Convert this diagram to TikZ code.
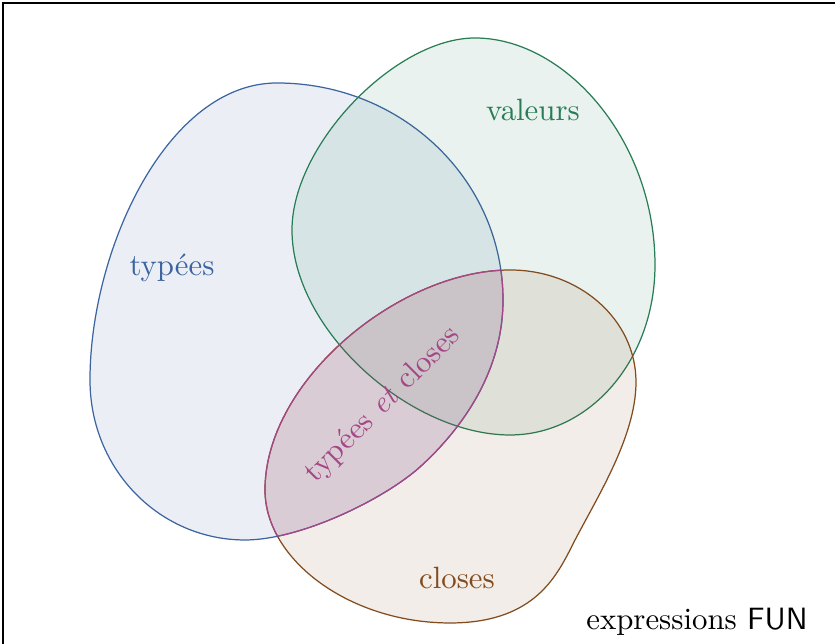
\documentclass[tikz,border=0pt]{standalone}
\usepackage{xcolor}
\usepackage{tikz}

\definecolor{typblue}{RGB}{60,100,160}
\definecolor{valgreen}{RGB}{40,125,85}
\definecolor{closbrown}{RGB}{130,75,30}
\definecolor{bothpurple}{RGB}{165,70,135}

\def\typeespath{(277,83) .. controls (402,83) and (503,180) .. (503,300)
  .. controls (503,370) and (464,427) .. (420,467)
  .. controls (383,500) and (300,540) .. (245,540)
  .. controls (160,540) and (90,470) .. (90,380)
  .. controls (90,250) and (167,83) .. cycle}
\def\valeurspath{(475,38) .. controls (565,38) and (655,140) .. (655,265)
  .. controls (655,360) and (590,435) .. (510,435)
  .. controls (410,435) and (292,330) .. (292,230)
  .. controls (292,145) and (395,38) .. cycle}
\def\closespath{(510,270) .. controls (580,270) and (636,320) .. (636,382)
  .. controls (636,440) and (592,505) .. (570,550)
  .. controls (554,581) and (530,623) .. (450,623)
  .. controls (350,623) and (265,560) .. (265,490)
  .. controls (265,380) and (400,270) .. cycle}

\begin{document}
\begin{tikzpicture}[
x=0.114mm, y=-0.114mm,
region/.style={line width=0.4pt, fill opacity=0.1},
label/.style={font=\normalsize},
]
\useasboundingbox (0,0) rectangle (835,644);
\draw[line width=0.6pt] (3,3) rectangle (840,650);

%Regions
\draw[region, draw=typblue, fill=typblue] \typeespath;
\draw[region, draw=valgreen, fill=valgreen] \valeurspath;
\draw[region, draw=closbrown, fill=closbrown] \closespath;

%Intersection
\begin{scope}
\clip \closespath;
\fill[bothpurple, fill opacity=0.12] \typeespath;
\draw[bothpurple, line width=0.4pt] \typeespath;
\end{scope}
\begin{scope}
\clip \typeespath;
\draw[bothpurple, line width=0.4pt] \closespath;
\end{scope}

%Labels
\node[label, text=typblue](typees) at (172,268){typées};
\node[label, text=valgreen](valeurs) at (533,110){valeurs};
\node[label, text=closbrown](closes) at (457,578){closes};
\node[label, text=bothpurple, rotate=45](both) at (383,405){typées \textit{et} closes};
\node[label](expr) at (697,622){expressions \textsf{FUN}};
\end{tikzpicture}
\end{document}
